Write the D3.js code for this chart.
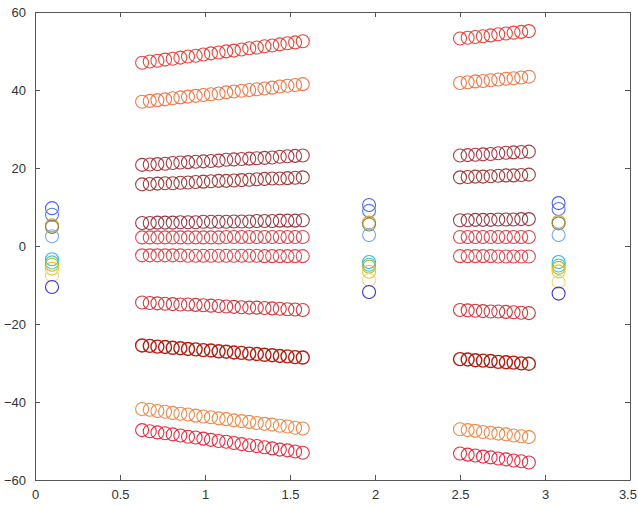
<!DOCTYPE html>
<html>
<head>
<meta charset="utf-8">
<script src="https://cdn.jsdelivr.net/npm/d3@7"></script>
<style>
  html, body { margin: 0; padding: 0; background: #fff; }
  svg { display: block; }
  .axis text { font-family: "Liberation Sans", Arial, sans-serif; font-size: 13px; fill: #333; }
  .axis path, .axis line { stroke: #555; }
</style>
</head>
<body>
<svg id="chart" width="638" height="505"></svg>
<script>
// Sample positions for the two long sweeps
const xSweep1 = [0.63, 0.675, 0.72, 0.765, 0.81, 0.855, 0.90, 0.945, 0.99, 1.035, 1.08,
                 1.125, 1.17, 1.215, 1.26, 1.305, 1.35, 1.395, 1.44, 1.485, 1.53, 1.575];
const xSweep2 = [2.50, 2.545, 2.59, 2.635, 2.68, 2.725, 2.77, 2.815, 2.86, 2.905];

// Positions of the three narrow clusters
const xClusters = [0.10, 1.965, 3.08];

// Band values for each sweep (one array per band)
const bandNames = ["A", "B", "C", "D", "E", "F", "G", "H", "I", "J", "K"];
const bandColors = ["#e8453c", "#f07848", "#a83c44", "#a23a3a", "#963c46", "#d84850",
                    "#e04850", "#d03a40", "#b02010", "#f08848", "#e82c40"];

const sweep1 = {
  A: [47.0,47.3,47.5,47.8,48.0,48.3,48.6,48.8,49.1,49.4,49.6,49.9,50.1,50.4,50.7,50.9,51.2,51.4,51.7,52.0,52.2,52.5],
  B: [37.0,37.2,37.4,37.6,37.9,38.1,38.3,38.5,38.7,38.9,39.1,39.4,39.6,39.8,40.0,40.2,40.4,40.6,40.9,41.1,41.3,41.5],
  C: [20.8,20.9,21.0,21.1,21.3,21.4,21.5,21.6,21.7,21.8,21.9,22.1,22.2,22.3,22.4,22.5,22.6,22.7,22.9,23.0,23.1,23.2],
  D: [15.8,15.9,16.0,16.1,16.1,16.2,16.3,16.4,16.5,16.6,16.7,16.7,16.8,16.9,17.0,17.1,17.2,17.3,17.3,17.4,17.5,17.6],
  E: [5.9,5.9,6.0,6.0,6.0,6.1,6.1,6.1,6.2,6.2,6.2,6.2,6.3,6.3,6.3,6.4,6.4,6.4,6.5,6.5,6.5,6.6],
  F: [2.2,2.2,2.2,2.2,2.2,2.2,2.2,2.2,2.2,2.2,2.2,2.3,2.3,2.3,2.3,2.3,2.3,2.3,2.3,2.3,2.3,2.3],
  G: [-2.4,-2.4,-2.4,-2.4,-2.4,-2.4,-2.5,-2.5,-2.5,-2.5,-2.5,-2.5,-2.5,-2.5,-2.5,-2.5,-2.6,-2.6,-2.6,-2.6,-2.6,-2.6],
  H: [-14.5,-14.6,-14.7,-14.8,-14.9,-15.0,-15.0,-15.1,-15.2,-15.3,-15.4,-15.5,-15.6,-15.7,-15.8,-15.8,-15.9,-16.0,-16.1,-16.2,-16.3,-16.4],
  I: [-25.5,-25.6,-25.8,-25.9,-26.1,-26.2,-26.4,-26.5,-26.7,-26.8,-27.0,-27.1,-27.3,-27.4,-27.6,-27.7,-27.9,-28.0,-28.2,-28.3,-28.5,-28.6],
  J: [-41.8,-42.0,-42.3,-42.5,-42.8,-43.0,-43.2,-43.5,-43.7,-43.9,-44.2,-44.4,-44.7,-44.9,-45.1,-45.4,-45.6,-45.8,-46.1,-46.3,-46.6,-46.8],
  K: [-47.2,-47.5,-47.8,-48.0,-48.3,-48.6,-48.9,-49.1,-49.4,-49.7,-50.0,-50.2,-50.5,-50.8,-51.1,-51.3,-51.6,-51.9,-52.2,-52.4,-52.7,-53.0]
};

const sweep2 = {
  A: [53.2,53.4,53.6,53.8,54.0,54.3,54.5,54.7,54.9,55.1],
  B: [41.8,42.0,42.2,42.3,42.5,42.7,42.9,43.0,43.2,43.4],
  C: [23.2,23.3,23.4,23.5,23.6,23.8,23.9,24.0,24.1,24.2],
  D: [17.6,17.7,17.8,17.8,17.9,18.0,18.1,18.1,18.2,18.3],
  E: [6.6,6.6,6.7,6.7,6.7,6.8,6.8,6.8,6.9,6.9],
  F: [2.3,2.3,2.3,2.3,2.3,2.3,2.3,2.3,2.3,2.3],
  G: [-2.6,-2.6,-2.6,-2.6,-2.6,-2.7,-2.7,-2.7,-2.7,-2.7],
  H: [-16.4,-16.5,-16.6,-16.7,-16.8,-16.8,-16.9,-17.0,-17.1,-17.2],
  I: [-29.0,-29.1,-29.3,-29.4,-29.5,-29.7,-29.8,-29.9,-30.1,-30.2],
  J: [-47.0,-47.2,-47.4,-47.7,-47.9,-48.1,-48.3,-48.6,-48.8,-49.0],
  K: [-53.2,-53.5,-53.7,-54.0,-54.2,-54.5,-54.7,-55.0,-55.2,-55.5]
};

// Cluster values: one array per colour, one value per cluster position
const clusterColors = ["#4a62e8", "#5c7ae8", "#e8a030", "#7c8a52", "#78a8f0",
                       "#38b0e8", "#40c8c0", "#a8c030", "#f0c030", "#f8d480", "#3038d8"];
const clusterValues = [
  [9.7, 10.5, 11.0],
  [8.0, 9.0, 9.5],
  [5.3, 6.0, 6.2],
  [4.9, 5.5, 5.8],
  [2.5, 2.8, 2.8],
  [-3.4, -4.1, -4.1],
  [-4.2, -4.8, -5.0],
  [-4.8, -5.3, -5.6],
  [-5.8, -6.6, -6.5],
  [-7.5, -8.7, -9.2],
  [-10.5, -11.8, -12.2]
];

const xTicks = [0, 0.5, 1, 1.5, 2, 2.5, 3, 3.5];
const yTicks = [-60, -40, -20, 0, 20, 40, 60];

const svg = d3.select("#chart");
const plotLeft = 35, plotRight = 630, plotTop = 12, plotBottom = 480;

const x = d3.scaleLinear().domain([0, 3.5]).range([plotLeft, plotRight]);
const y = d3.scaleLinear().domain([-60, 60]).range([plotBottom, plotTop]);

const R = 6.5;

// Axes (inward ticks on all four sides)
const xAxisG = svg.append("g").attr("class", "axis")
  .attr("transform", `translate(0,${plotBottom})`)
  .call(d3.axisBottom(x).tickValues(xTicks).tickSizeInner(-5).tickSizeOuter(0).tickPadding(10)
    .tickFormat(d3.format("")));
// keep the last label inside the page edge
xAxisG.selectAll(".tick text").filter(d => d === 3.5).attr("dx", "-0.2em");

svg.append("g").attr("class", "axis")
  .attr("transform", `translate(0,${plotTop})`)
  .call(d3.axisTop(x).tickValues(xTicks).tickSizeInner(-5).tickSizeOuter(0).tickFormat(""));
svg.append("g").attr("class", "axis")
  .attr("transform", `translate(${plotLeft},0)`)
  .call(d3.axisLeft(y).tickValues(yTicks).tickSizeInner(-5).tickSizeOuter(0).tickPadding(9)
    .tickFormat(d3.format("")));
svg.append("g").attr("class", "axis")
  .attr("transform", `translate(${plotRight},0)`)
  .call(d3.axisRight(y).tickValues(yTicks).tickSizeInner(-5).tickSizeOuter(0).tickFormat(""));

const marks = svg.append("g");

// Sweep bands
bandNames.forEach((name, i) => {
  const pts = xSweep1.map((xv, j) => [xv, sweep1[name][j]])
    .concat(xSweep2.map((xv, j) => [xv, sweep2[name][j]]));
  marks.append("g")
    .selectAll("circle")
    .data(pts)
    .join("circle")
    .attr("cx", d => x(d[0]))
    .attr("cy", d => y(d[1]))
    .attr("r", R)
    .attr("fill", "none")
    .attr("stroke", bandColors[i])
    .attr("stroke-width", name === "I" ? 1.4 : 1.1);
});

// Narrow clusters
clusterValues.forEach((vals, i) => {
  marks.append("g")
    .selectAll("circle")
    .data(vals.map((v, j) => [xClusters[j], v]))
    .join("circle")
    .attr("cx", d => x(d[0]))
    .attr("cy", d => y(d[1]))
    .attr("r", R)
    .attr("fill", "none")
    .attr("stroke", clusterColors[i])
    .attr("stroke-width", 1.1);
});
</script>
</body>
</html>
